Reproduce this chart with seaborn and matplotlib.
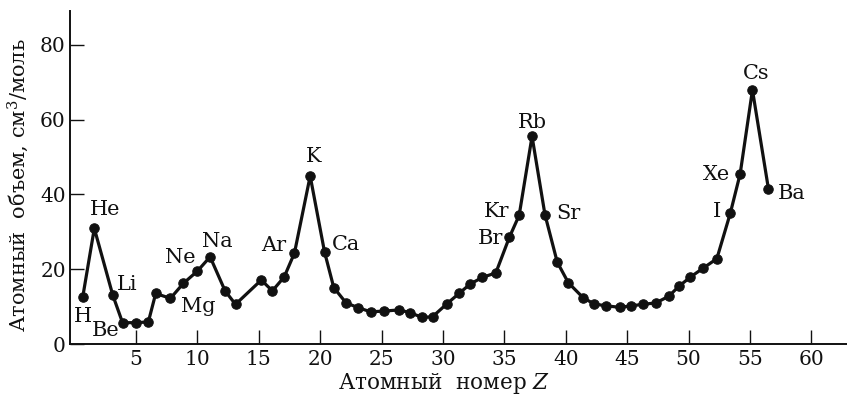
import matplotlib
matplotlib.use("Agg")
import matplotlib.pyplot as plt
import seaborn as sns
import pandas as pd

# Data
atomic_z = [0.66, 1.6, 3.1, 3.9, 5.0, 6.0, 6.6, 7.8, 8.85, 10.0, 11.03, 12.25, 13.1, 15.2, 16.1,
            17.06, 17.9, 19.18, 20.35, 21.1, 22.1, 23.1, 24.1, 25.2, 26.4, 27.3, 28.3, 29.15,
            30.3, 31.3, 32.2, 33.2, 34.3, 35.4, 36.2, 37.25, 38.3, 39.3, 40.2, 41.4, 42.3, 43.3,
            44.4, 45.3, 46.3, 47.35, 48.4, 49.2, 50.15, 51.2, 52.3, 53.4, 54.2, 55.2, 56.5]
atomic_volume = [12.6, 30.9, 13.1, 5.7, 5.7, 5.9, 13.5, 12.2, 16.2, 19.5, 23.3, 14.2, 10.6, 17.1, 14.2,
                 17.9, 24.3, 44.9, 24.6, 15.1, 11.0, 9.7, 8.6, 8.8, 9.1, 8.4, 7.1, 7.3,
                 10.7, 13.5, 16.0, 17.8, 19.0, 28.5, 34.4, 55.5, 34.6, 21.9, 16.4, 12.4, 10.7, 10.2,
                 9.8, 10.2, 10.6, 11.0, 12.8, 15.4, 17.9, 20.3, 22.8, 35.0, 45.5, 67.9, 41.5]

element_names = ["H", "Be", "He", "Li", "Ne", "Na", "Mg", "Ar", "K", "Ca",
                 "Br", "Kr", "Rb", "Sr", "I", "Xe", "Cs", "Ba"]
element_label_x = [0.65, 2.55, 2.5, 4.3, 8.6, 11.6, 10.1, 16.2, 19.45, 22.06,
                   33.9, 34.4, 37.3, 40.2, 52.3, 52.3, 55.5, 58.4]
element_label_y = [7.3, 3.7, 36.0, 15.9, 23.1, 27.5, 9.9, 26.4, 50.0, 26.6,
                   28.3, 35.5, 59.3, 35.0, 35.3, 45.3, 72.3, 40.3]

x_ticks = [5, 10, 15, 20, 25, 30, 35, 40, 45, 50, 55, 60]
y_ticks = [0, 20, 40, 60, 80]

sns.set_style("ticks")
plt.rcParams["font.family"] = ["DejaVu Serif"]
plt.rcParams["mathtext.fontset"] = "dejavuserif"

df = pd.DataFrame({"Z": atomic_z, "V": atomic_volume})

W, H = 847, 397
fig = plt.figure(figsize=(W / 100, H / 100), dpi=100)
ax = fig.add_axes([70 / W, (H - 344) / H, 1 - 70 / W, (344 - 11) / H])

sns.lineplot(data=df, x="Z", y="V", sort=False, ax=ax, color="#111111", linewidth=2.3,
             marker="o", markersize=6.8, markeredgecolor="#111111", markerfacecolor="#111111")

for name, lx, ly in zip(element_names, element_label_x, element_label_y):
    ax.text(lx, ly, name, ha="center", va="center", fontsize=15, color="#111111")

ax.set_xlim(-0.38, 62.9)
ax.set_ylim(0, 89)
ax.set_xticks(x_ticks)
ax.set_yticks(y_ticks)
ax.tick_params(axis="both", direction="in", length=10, width=1.0, labelsize=14.5,
               colors="#111111")
ax.tick_params(axis="x", pad=4)
ax.tick_params(axis="y", pad=3)

for side in ["top", "right"]:
    ax.spines[side].set_visible(False)
for side in ["left", "bottom"]:
    ax.spines[side].set_linewidth(1.4)
    ax.spines[side].set_color("#111111")

ax.set_xlabel("")
ax.set_ylabel("")
fig.text(444 / W, 1 - 389 / H, "Атомный  номер $Z$", ha="center", va="baseline",
         fontsize=15.5, color="#111111")
fig.text(18 / W, 1 - 185 / H, "Атомный  объем, см$^3$/моль", rotation=90,
         ha="center", va="center", fontsize=15, color="#111111")

fig.savefig("out.png", dpi=100)
